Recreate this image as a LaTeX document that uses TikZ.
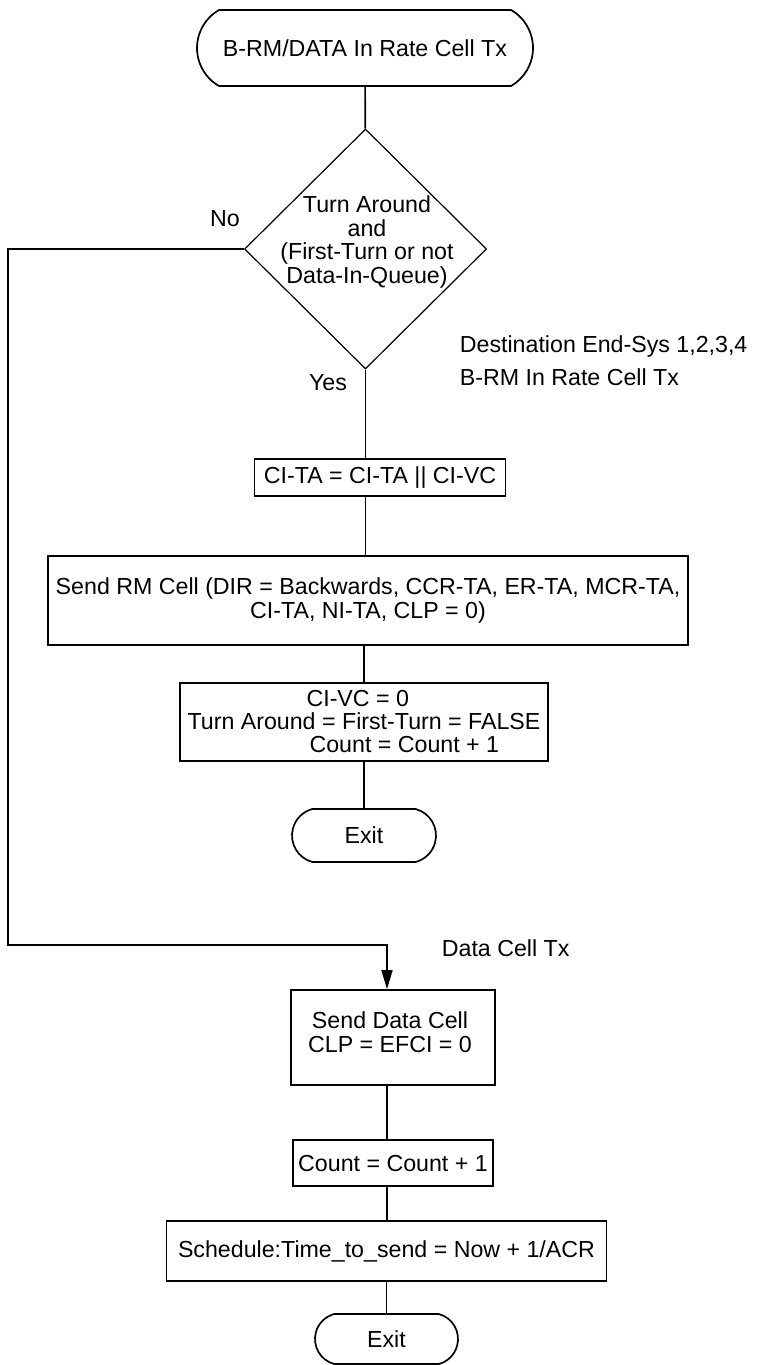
\documentclass[tikz,border=0pt]{standalone}
\usepackage{fontspec}
\setmainfont{Liberation Sans}
\usetikzlibrary{shapes.geometric,shapes.misc,arrows.meta}
\begin{document}
\begin{tikzpicture}[x=0.5pt,y=-0.5pt,
  font=\fontsize{11.6}{11.8}\selectfont, line width=0.85pt,
  box/.style={draw, rectangle, inner sep=0pt, align=center},
  term/.style={draw, rounded rectangle, inner sep=0pt},
  lbl/.style={inner sep=0pt},
  arr/.style={-{Triangle[length=9.5pt,width=5.5pt]}}]
\useasboundingbox (0,0) rectangle (759,1365);

\node[term, rounded rectangle arc length=120, minimum width=168pt, minimum height=38pt] (start) at (365,48) {B-RM/DATA In Rate Cell Tx};
\node[draw, diamond, minimum width=121pt, minimum height=120pt, inner sep=0pt, line width=0.6pt] (dia) at (365.5,249) {};
\node[lbl, align=center, font=\fontsize{11.6}{11.85}\selectfont] (diat) at (367,242) {Turn Around\\and\\(First-Turn or not\\Data-In-Queue)};
\node[lbl] (no) at (225,219) {No};
\node[lbl] (yes) at (328,383) {Yes};
\node[lbl, anchor=west, align=left, font=\fontsize{11.6}{16.5}\selectfont] (dest) at (459,361) {Destination End-Sys 1,2,3,4\\B-RM In Rate Cell Tx};

\node[box, minimum width=125.5pt, minimum height=18.5pt] (cita) at (380,477.5) {CI-TA = CI-TA || CI-VC};
\node[box, inner xsep=4pt, minimum height=44.5pt] (sendrm) at (368,600.5) {Send RM Cell (DIR = Backwards, CCR-TA, ER-TA, MCR-TA,\\CI-TA, NI-TA, CLP = 0)};
\node[box, minimum width=184pt, minimum height=39pt, align=left, font=\fontsize{11.6}{11.5}\selectfont] (civc) at (364,722) {\hspace*{59.5pt}CI-VC = 0\\Turn Around = First-Turn = FALSE\\\hspace*{61pt}Count = Count + 1};
\node[term, rounded rectangle arc length=150, minimum width=72pt, minimum height=26.5pt] (exit1) at (364,835.5) {Exit};

\node[box, minimum width=102pt, minimum height=47.5pt] (senddata) at (393,1037.5) {};
\node[lbl, align=center] (sdt) at (390,1032) {Send Data Cell\\CLP = EFCI = 0};
\node[box, minimum width=100pt, minimum height=23pt] (count) at (393,1163) {Count = Count + 1};
\node[box, minimum width=220pt, minimum height=30pt] (sched) at (386.5,1251) {Schedule:Time\_to\_send = Now + 1/ACR};
\node[term, rounded rectangle arc length=150, minimum width=71.5pt, minimum height=25pt] (exit2) at (386.5,1339) {Exit};
\node[lbl, anchor=west] (dct) at (441,948) {Data Cell Tx};

\coordinate (c1) at (8,945);
\coordinate (c2) at (387,945);

\draw (start) -- (dia);
\draw (dia.south) -- (dia.south |- cita.north);
\draw (dia.south |- cita.south) -- (dia.south |- sendrm.north);
\draw (civc.north |- sendrm.south) -- (civc.north);
\draw (civc.south) -- (exit1.north);
\draw[arr] (dia.west) -| (c1) -- (c2) -- (c2 |- senddata.north);
\draw (c2 |- senddata.south) -- (c2 |- count.north);
\draw (c2 |- count.south) -- (c2 |- sched.north);
\draw (exit2.north |- sched.south) -- (exit2.north);
\end{tikzpicture}
\end{document}
